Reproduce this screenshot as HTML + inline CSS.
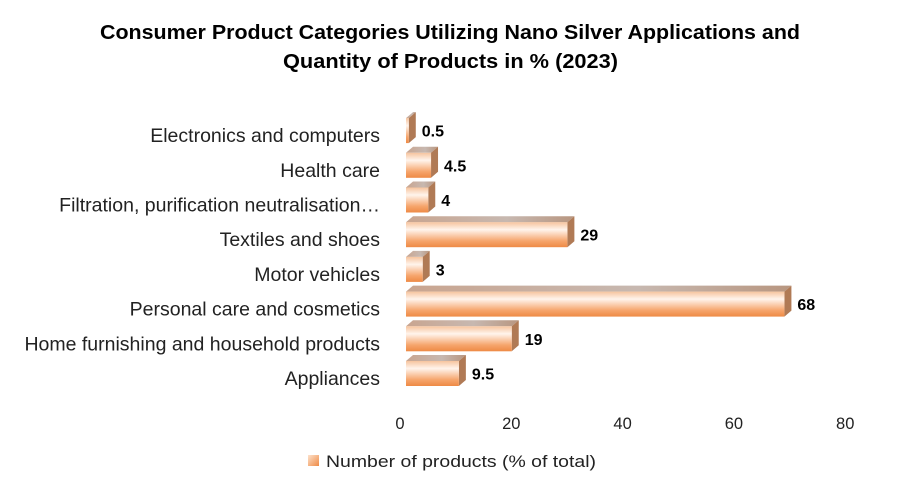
<!DOCTYPE html>
<html><head><meta charset="utf-8"><style>
body{margin:0;background:#fff;}
svg{display:block;font-family:"Liberation Sans",sans-serif;}
</style></head><body>
<svg id="chart" width="900" height="492" viewBox="0 0 900 492">
<defs>
<linearGradient id="front" x1="0" y1="0" x2="0" y2="1">
<stop offset="0" stop-color="#f6c49e"/><stop offset="0.3" stop-color="#fff4ec"/><stop offset="0.75" stop-color="#f6a56c"/><stop offset="1" stop-color="#ee8a45"/></linearGradient>
<linearGradient id="top" x1="0" y1="0" x2="1" y2="0">
<stop offset="0" stop-color="#c9a590"/><stop offset="0.6" stop-color="#c7b8b0"/><stop offset="1" stop-color="#b89680"/></linearGradient>
<linearGradient id="leg" x1="0" y1="0" x2="1" y2="1"><stop offset="0" stop-color="#fde2cc"/><stop offset="1" stop-color="#ee8a45"/></linearGradient>
</defs>
<text x="100" y="39" font-size="20" font-weight="bold" textLength="700" lengthAdjust="spacingAndGlyphs">Consumer Product Categories Utilizing Nano Silver Applications and</text>
<text x="283" y="68" font-size="20" font-weight="bold" textLength="335" lengthAdjust="spacingAndGlyphs">Quantity of Products in % (2023)</text>
<g id="bars"></g>
<g id="xticks"></g>
<rect x="308" y="455" width="11" height="11" fill="url(#leg)"/>
<text x="326" y="467" font-size="17" fill="#222" textLength="270" lengthAdjust="spacingAndGlyphs">Number of products (% of total)</text>
</svg>
<script>
const categories=["Appliances","Home furnishing and household products","Personal care and cosmetics","Motor vehicles","Textiles and shoes","Filtration, purification neutralisation…","Health care","Electronics and computers"];
const values=[9.5,19,68,3,29,4,4.5,0.5];
const valueLabels=["9.5","19","68","3","29","4","4.5","0.5"];
const xTicks=[0,20,40,60,80];
const NS="http://www.w3.org/2000/svg";
const x0=406, pxPer=5.565;
function xs(v){return x0+v*pxPer;}
function yc(i){return 378-i*34.7;}
function mk(tag,attrs,parent){const e=document.createElementNS(NS,tag);for(const k in attrs)e.setAttribute(k,attrs[k]);parent.appendChild(e);return e;}
const gb=document.getElementById('bars');
const dx=7,dy=6,h=25;
categories.forEach((c,i)=>{
  const g=mk('g',{},gb);
  
  
  const yTop=yc(i)-4.5-h/2, x1=xs(values[i]);
  mk('polygon',{points:`${x0},${yTop} ${x0+dx},${yTop-dy} ${x1+dx},${yTop-dy} ${x1},${yTop}`,fill:'url(#top)'},g);
  mk('polygon',{points:`${x1},${yTop} ${x1+dx},${yTop-dy} ${x1+dx},${yTop+h-dy} ${x1},${yTop+h}`,fill:'#b07a55'},g);
  mk('rect',{x:x0,y:yTop,width:Math.max(x1-x0,0.5),height:h,fill:'url(#front)'},g);
  const vl=mk('text',{x:x1+dx+6,y:yc(i)-4.5+6,'font-size':16,'font-weight':'bold'},gb);
  vl.textContent=valueLabels[i];
  
  
  const cl=mk('text',{x:380,y:yc(i)+7,'text-anchor':'end','font-size':19.5,fill:'#222'},gb);
  cl.textContent=c;
  
  
});
const gt=document.getElementById('xticks');
xTicks.forEach(t=>{
  const e=mk('text',{x:xs(t)-6,y:429,'text-anchor':'middle','font-size':16.5,fill:'#222'},gt);
  e.textContent=t;
  
  
});
</script>
</body></html>
